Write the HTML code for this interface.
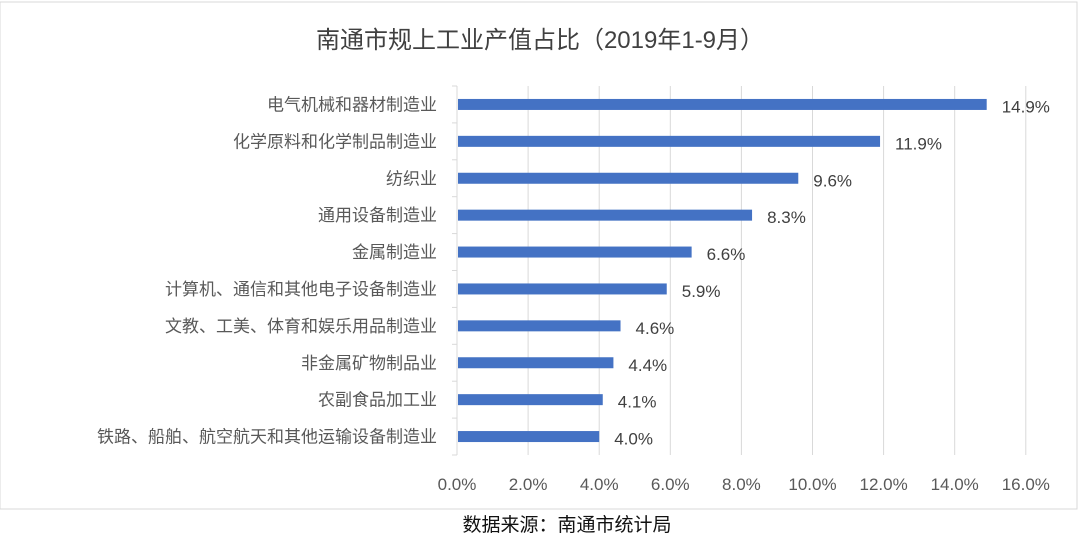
<!DOCTYPE html>
<html><head><meta charset="utf-8"><style>
body{margin:0;background:#fff;}
svg text{font-family:"Liberation Sans","Noto Sans CJK SC",sans-serif;}
</style></head><body>
<svg width="1080" height="542" viewBox="0 0 1080 542">
<rect x="0" y="2" width="1077" height="507" fill="#fff" stroke="#d9d9d9"/>
<text x="540" y="48" font-size="24" fill="#404040" text-anchor="middle">南通市规上工业产值占比（2019年1-9月）</text>
<g id="grid"></g><g id="bars"></g>
<text x="567" y="531" font-size="19" fill="#111" text-anchor="middle">数据来源：南通市统计局</text>
</svg>
<script>
const categories=["电气机械和器材制造业","化学原料和化学制品制造业","纺织业","通用设备制造业","金属制造业","计算机、通信和其他电子设备制造业","文教、工美、体育和娱乐用品制造业","非金属矿物制品业","农副食品加工业","铁路、船舶、航空航天和其他运输设备制造业"];
const values=[14.9,11.9,9.6,8.3,6.6,5.9,4.6,4.4,4.1,4.0];
const ticks=[0,2,4,6,8,10,12,14,16];
const NS="http://www.w3.org/2000/svg";
const x0=457,kx=35.55,plotTop=86,rowH=36.9;
const xs=v=>x0+v*kx, yc=i=>plotTop+rowH*(i+0.5);
const g=document.getElementById('grid'),b=document.getElementById('bars');
function el(t,a,p){const e=document.createElementNS(NS,t);for(const k in a)e.setAttribute(k,a[k]);p.appendChild(e);return e;}
ticks.forEach(t=>{
 if(t>0){const l=el('line',{x1:xs(t),x2:xs(t),y1:plotTop,y2:plotTop+rowH*10,stroke:'#d9d9d9','stroke-width':1},g);
 
 }
 const tx=el('text',{x:xs(t),y:490,'font-size':17,fill:'#595959','text-anchor':'middle'},g);
 tx.textContent=t.toFixed(1)+'%';
 
 
});
const ax=el('line',{x1:x0,x2:x0,y1:plotTop,y2:plotTop+rowH*10,stroke:'#d9d9d9'},g);


for(let i=0;i<=10;i++){const tk=el('line',{x1:x0-5,x2:x0,y1:plotTop+rowH*i,y2:plotTop+rowH*i,stroke:'#d9d9d9'},g);
 
 }
categories.forEach((c,i)=>{
 const r=el('rect',{x:x0+1,y:yc(i)-5.5,width:xs(values[i])-x0-1,height:11,fill:'#4472c4'},b);
 
 
 const lb=el('text',{x:437,y:yc(i)+6,'font-size':17,fill:'#595959','text-anchor':'end'},b);
 lb.textContent=c;
 
 
 const v=el('text',{x:xs(values[i])+15,y:yc(i)+8,'font-size':17,fill:'#404040'},b);
 v.textContent=values[i].toFixed(1)+'%';
 
 
});
</script>
</body></html>
